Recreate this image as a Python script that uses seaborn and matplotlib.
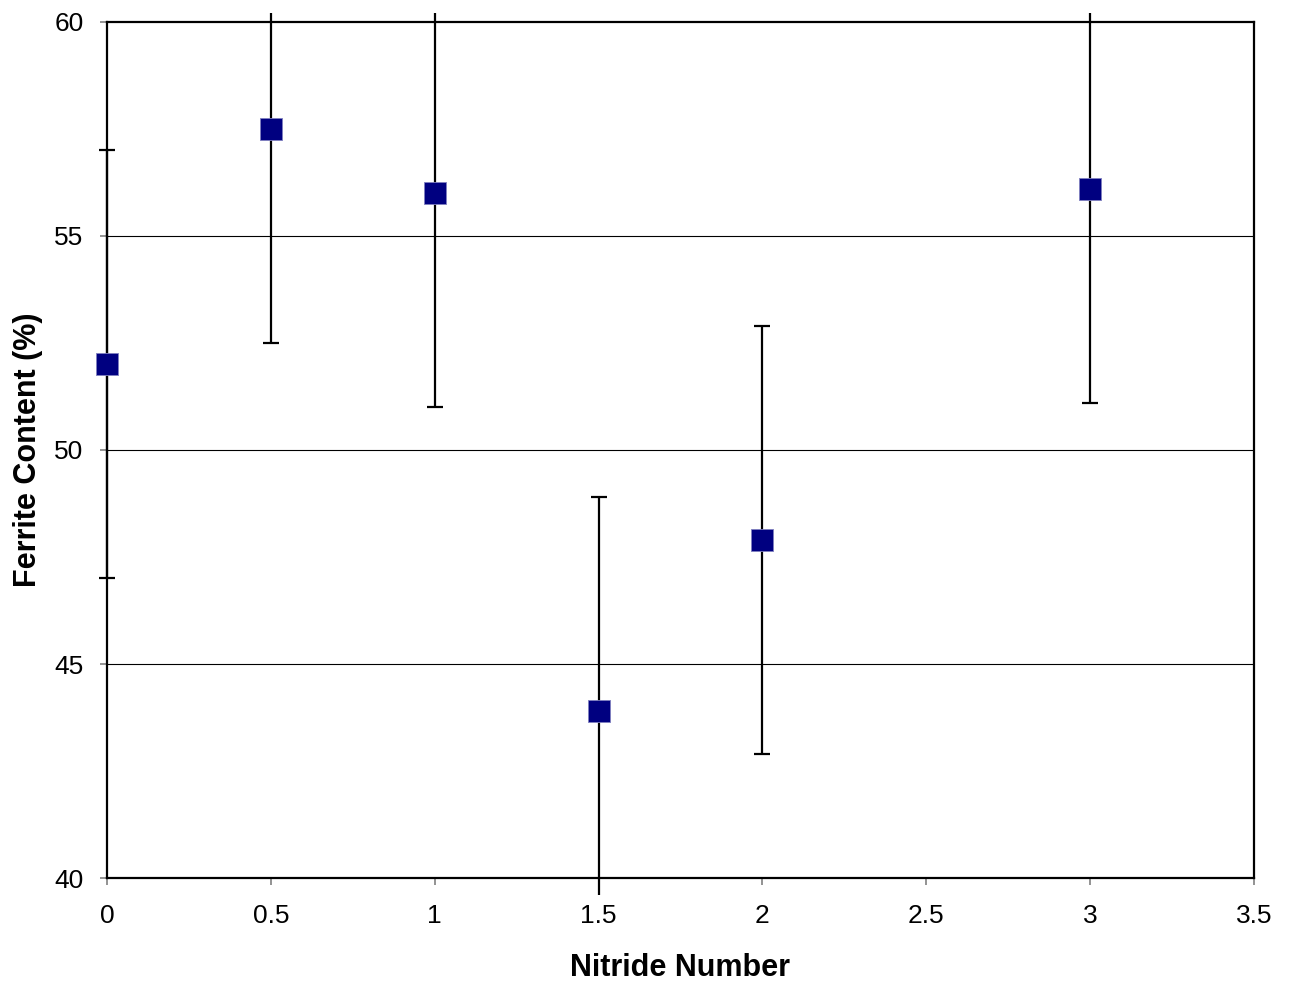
import numpy as np
import pandas as pd
import matplotlib
matplotlib.use("Agg")
import matplotlib.pyplot as plt
import matplotlib.transforms as mtransforms
import seaborn as sns

# Measured ferrite content per nitride number, with +/- spread
nitride_number = [0, 0.5, 1, 1.5, 2, 3]
ferrite_content = [52.0, 57.5, 56.0, 43.9, 47.9, 56.1]
ferrite_error = [5.0, 5.0, 5.0, 5.0, 5.0, 5.0]

x_ticks = [0, 0.5, 1, 1.5, 2, 2.5, 3, 3.5]
x_tick_labels = ["0", "0.5", "1", "1.5", "2", "2.5", "3", "3.5"]
y_ticks = [40, 45, 50, 55, 60]

df = pd.DataFrame({"Nitride Number": nitride_number,
                   "Ferrite Content (%)": ferrite_content,
                   "err": ferrite_error})

sns.set_theme(style="white")
plt.rcParams["font.family"] = ["Liberation Sans", "DejaVu Sans"]
plt.rcParams["text.color"] = "black"
plt.rcParams["axes.labelcolor"] = "black"
plt.rcParams["xtick.color"] = "black"
plt.rcParams["ytick.color"] = "black"

fig = plt.figure(figsize=(12.91, 9.85), dpi=100)
ax = fig.add_axes([0.0829, 0.1086, 0.9713 - 0.0829, 0.9777 - 0.1086])

# Error bars, allowed to spill a little past the frame
eb = ax.errorbar(df["Nitride Number"], df["Ferrite Content (%)"], yerr=df["err"],
                 fmt="none", ecolor="black", elinewidth=1.6, capsize=5.8,
                 capthick=1.6, zorder=3)
clip = mtransforms.TransformedBbox(
    mtransforms.Bbox([[-0.02, -0.02], [1.02, 1.011]]), ax.transAxes)
for art in list(eb.lines[1]) + list(eb.lines[2]):
    art.set_clip_box(clip)

sns.scatterplot(data=df, x="Nitride Number", y="Ferrite Content (%)", ax=ax,
                marker="s", s=230, color="#000080", edgecolor="#8080c0",
                linewidth=0.6, zorder=4, legend=False, clip_on=False)

ax.set_xlim(0, 3.5)
ax.set_ylim(40, 60)
ax.set_xticks(x_ticks)
ax.set_xticklabels(x_tick_labels)
ax.set_yticks(y_ticks)

for y in y_ticks[1:-1]:
    ax.axhline(y, color="black", linewidth=0.8, zorder=1)

for s in ax.spines.values():
    s.set_color("black")
    s.set_linewidth(1.6)
    s.set_visible(True)

ax.tick_params(axis="both", which="major", direction="out", length=5,
               width=1.2, color="#808080", labelcolor="black", labelsize=19,
               left=True, bottom=True)
ax.tick_params(axis="x", pad=14)
ax.tick_params(axis="y", pad=12)

ax.set_xlabel("Nitride Number", fontsize=22, fontweight="bold", labelpad=18)
ax.set_ylabel("Ferrite Content (%)", fontsize=22, fontweight="bold", labelpad=8)

fig.savefig("out.png", dpi=100)
